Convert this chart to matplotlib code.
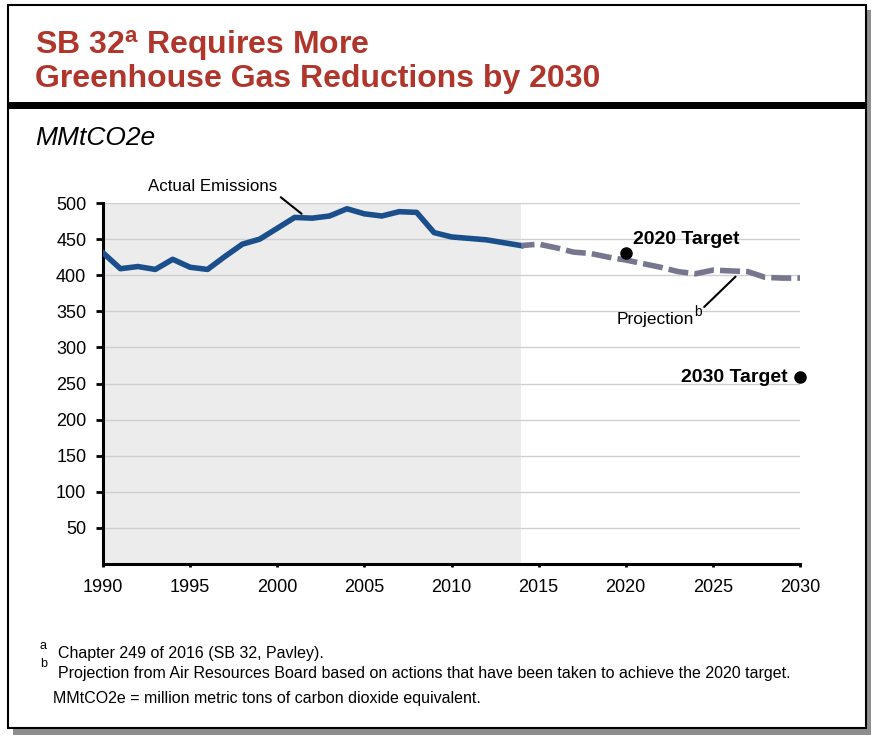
import matplotlib
matplotlib.use('Agg')
import matplotlib.pyplot as plt
from matplotlib.patches import Rectangle

plt.rcParams['font.family'] = ['Liberation Sans', 'DejaVu Sans']
plt.rcParams['mathtext.fontset'] = 'custom'
plt.rcParams['mathtext.rm'] = 'Liberation Sans'
plt.rcParams['mathtext.bf'] = 'Liberation Sans:bold'
plt.rcParams['mathtext.it'] = 'Liberation Sans:italic'

# data (MMtCO2e)
actual_years = list(range(1990, 2015))
actual_values = [431, 409, 412, 408, 422, 411, 408, 426, 443, 450, 465, 480, 479,
                 482, 492, 485, 482, 488, 487, 459, 453, 451, 449, 445, 441]
proj_years = list(range(2014, 2031))
proj_values = [441, 443, 438, 432, 430, 425, 421, 416, 411, 405, 402, 407, 406,
               405, 397, 396, 396]
target_years = [2020, 2030]
target_values = [431, 259]
target_labels = ['2020 Target', '2030 Target']
x_ticks = list(range(1990, 2031, 5))
y_ticks = list(range(50, 501, 50))

W, H = 873, 740
fig = plt.figure(figsize=(W / 100, H / 100), dpi=100)


def fx(px):
    return px / W


def fy(py):
    return 1 - py / H


def box(x0, y0, x1, y1, **kw):
    # rectangle given in pixel coords (top-left origin)
    fig.patches.append(Rectangle((fx(x0), fy(y1)), fx(x1) - fx(x0), fy(y0) - fy(y1),
                                 transform=fig.transFigure, **kw))


# frame with drop shadow and title rule
box(13, 10, 871, 735, facecolor='#8e8e8e', edgecolor='none', zorder=0)
box(8, 5, 866, 728, facecolor='white', edgecolor='black', linewidth=1.5, zorder=1)
box(8, 102, 866, 109, facecolor='black', edgecolor='none', zorder=2)

title_color = '#b0362c'
fig.text(fx(35), fy(54), r'SB 32$^{\mathbf{a}}$ Requires More', color=title_color,
         fontsize=23, fontweight='bold', va='baseline', ha='left', zorder=3)
fig.text(fx(35), fy(87), 'Greenhouse Gas Reductions by 2030', color=title_color,
         fontsize=23, fontweight='bold', va='baseline', ha='left', zorder=3)
fig.text(fx(35), fy(145), 'MMtCO2e', fontsize=19, fontstyle='italic',
         va='baseline', ha='left', zorder=3)

ax = fig.add_axes([fx(103), fy(564), fx(800) - fx(103), fy(203) - fy(564)])
ax.set_zorder(3)
ax.patch.set_alpha(0)

ax.axvspan(actual_years[0], actual_years[-1], color='#ececec', zorder=0, lw=0)
for v in y_ticks:
    ax.axhline(v, color='#cfcfcf', lw=1, zorder=1)

ax.plot(actual_years, actual_values, color='#1b4f8c', lw=4, zorder=3)
ax.plot(proj_years, proj_values, color='#76768f', lw=4, zorder=3,
        linestyle=(1.2, (3.6, 1.1)))
ax.plot(target_years, target_values, 'o', color='black', markersize=8, zorder=4,
        clip_on=False)

ax.text(2020.4, 449, target_labels[0], fontsize=14, fontweight='bold',
        va='center', ha='left')
ax.text(2029.3, 258, target_labels[1], fontsize=14, fontweight='bold',
        va='center', ha='right')

# leader lines
ax.annotate('', xy=(2001.4, 485), xytext=(2000.2, 508),
            arrowprops=dict(arrowstyle='-', color='black', lw=1.5,
                            shrinkA=0, shrinkB=0))
ax.annotate('', xy=(2026.3, 398), xytext=(2024.5, 356),
            arrowprops=dict(arrowstyle='-', color='black', lw=1.5,
                            shrinkA=0, shrinkB=0))
ax.text(2000.0, 523, 'Actual Emissions', fontsize=12.2, ha='right', va='center')
ax.text(2019.5, 338, 'Projection', fontsize=12.5, ha='left', va='center')
ax.text(2023.9, 349, 'b', fontsize=10, ha='left', va='center')

ax.set_xlim(1990, 2030)
ax.set_ylim(0, 500)
ax.set_xticks(x_ticks)
ax.set_yticks(y_ticks)
ax.tick_params(axis='both', labelsize=13, direction='out', width=2)
ax.tick_params(axis='y', length=5, pad=7)
ax.tick_params(axis='x', length=2, pad=9)
for s in ['top', 'right']:
    ax.spines[s].set_visible(False)
for s in ['left', 'bottom']:
    ax.spines[s].set_linewidth(2.2)

# footnotes
fn = 11.5
fig.text(fx(40), fy(649), 'a', fontsize=9, va='baseline', zorder=3)
fig.text(fx(58), fy(658), 'Chapter 249 of 2016 (SB 32, Pavley).', fontsize=fn,
         va='baseline', zorder=3)
fig.text(fx(40), fy(667), 'b', fontsize=9, va='baseline', zorder=3)
fig.text(fx(58), fy(678), 'Projection from Air Resources Board based on actions '
         'that have been taken to achieve the 2020 target.', fontsize=fn,
         va='baseline', zorder=3)
fig.text(fx(53), fy(703), 'MMtCO2e = million metric tons of carbon dioxide equivalent.',
         fontsize=fn, va='baseline', zorder=3)

fig.savefig('out.png', dpi=100)
